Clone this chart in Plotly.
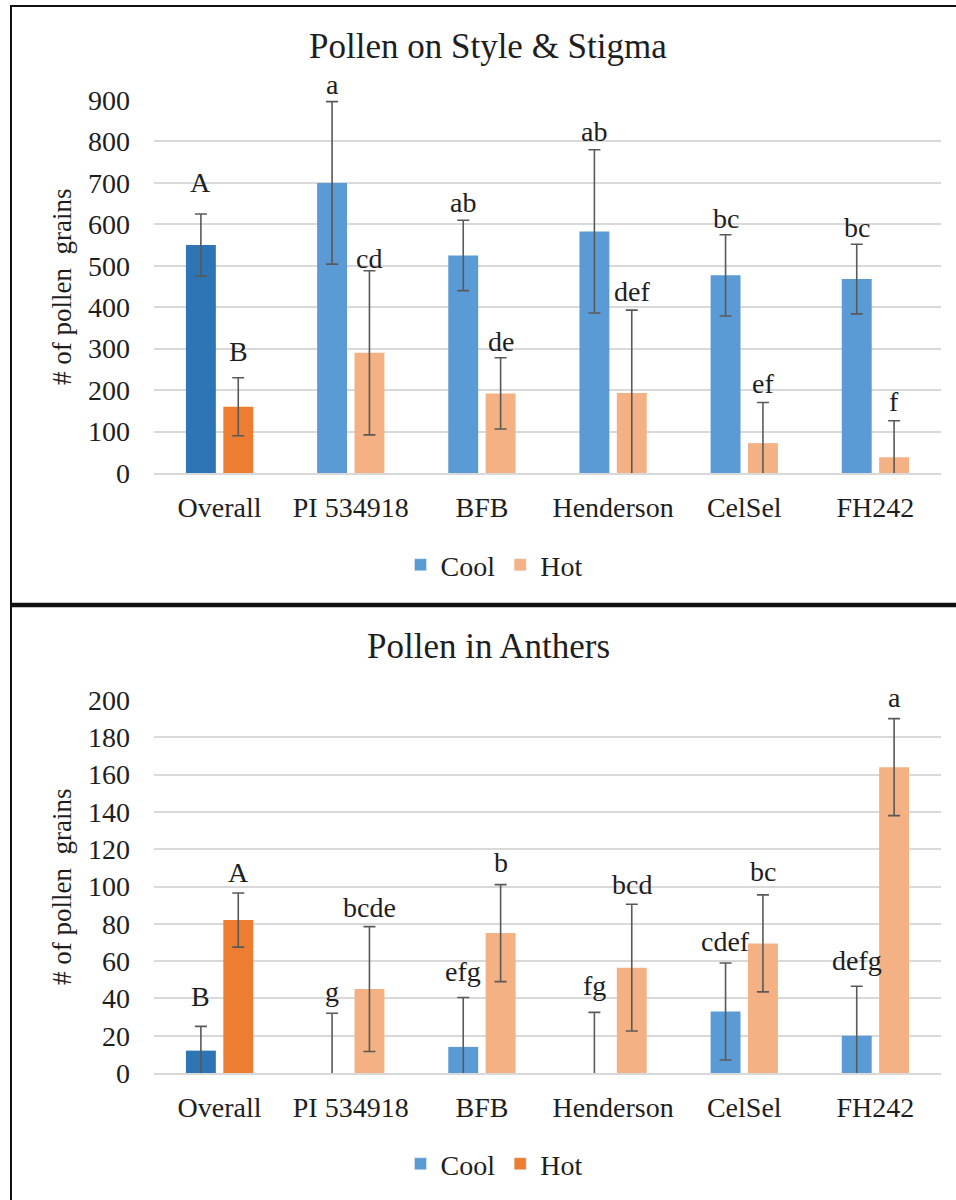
import plotly.graph_objects as go

# ---- data -------------------------------------------------------------
categories = ["Overall", "PI 534918", "BFB", "Henderson", "CelSel", "FH242"]

stigma_cool = [550, 700, 525, 583, 477, 468]
stigma_cool_err = [75, 196, 85, 197, 98, 84]
stigma_hot = [160, 290, 192, 193, 72, 38]
stigma_hot_err = [70, 198, 86, 200, 98, 88]
stigma_cool_letters = ["A", "a", "ab", "ab", "bc", "bc"]
stigma_hot_letters = ["B", "cd", "de", "def", "ef", "f"]

anther_cool = [12, 0, 14, 0, 33, 20]
anther_cool_err = [13, 32, 26.5, 32.5, 26, 26.5]
anther_hot = [82, 45, 75, 56.5, 69.5, 164]
anther_hot_err = [14.5, 33.5, 26, 34, 26, 26]
anther_cool_letters = ["B", "g", "efg", "fg", "cdef", "defg"]
anther_hot_letters = ["A", "bcde", "b", "bcd", "bc", "a"]

# ---- style ------------------------------------------------------------
W, H = 956, 1200
FONT = "Liberation Serif"
TXT = "#1e1e1e"
GRID = "#D9D9D9"
ERR = "#595959"
COOL_ALL, HOT_ALL = "#2E75B6", "#ED7D31"
COOL, HOT = "#5B9BD5", "#F4B183"
BARGAP, GROUPGAP = 0.43, 0.2
HALF = (1 - BARGAP) / 4  # centre offset of each bar within its group

# extra lift (px) of the letter labels above the error caps
stigma_cool_lift = [14, 0, 0, 1, -1, -1]
stigma_hot_lift = [9, -5, -1, 1, 2, 2]
anther_cool_lift = [12, 4, 8, 9, 4, 8]
anther_hot_lift = [3, 2, 5, 2, 6, 4]


def px_x(p):
    return p / W


def px_y(p):
    return 1 - p / H


xs = list(range(len(categories)))
fig = go.Figure()


def add_panel(xa, ya, cool, cool_err, hot, hot_err, hot_first):
    fig.add_trace(go.Bar(
        x=xs, y=cool, name="Cool", xaxis=xa, yaxis=ya, showlegend=False,
        marker=dict(color=[COOL_ALL] + [COOL] * (len(xs) - 1), line=dict(width=0)),
        error_y=dict(type="data", array=cool_err, color=ERR, thickness=1.6, width=6),
    ))
    fig.add_trace(go.Bar(
        x=xs, y=hot, name="Hot", xaxis=xa, yaxis=ya, showlegend=False,
        marker=dict(color=[hot_first] + [HOT] * (len(xs) - 1), line=dict(width=0)),
        error_y=dict(type="data", array=hot_err, color=ERR, thickness=1.6, width=6),
    ))


add_panel("x", "y", stigma_cool, stigma_cool_err, stigma_hot, stigma_hot_err, HOT_ALL)
add_panel("x2", "y2", anther_cool, anther_cool_err, anther_hot, anther_hot_err, HOT_ALL)

# legend entries (drawn on a hidden axis pair so they do not take bar slots)
for name, col, lg in [("Cool", COOL, "legend"), ("Hot", HOT, "legend"),
                      ("Cool", COOL, "legend2"), ("Hot", HOT_ALL, "legend2")]:
    fig.add_trace(go.Bar(x=[None], y=[None], name=name, marker_color=col,
                         xaxis="x3", yaxis="y3", legend=lg, showlegend=True))

annotations = []


def letters(xa, ya, vals, errs, labels, lifts, side):
    for i, (v, e, t, l) in enumerate(zip(vals, errs, labels, lifts)):
        annotations.append(dict(
            x=i + side * HALF, y=v + e, xref=xa, yref=ya, text=t,
            showarrow=False, yanchor="bottom", xanchor="center", yshift=l,
            font=dict(family=FONT, size=28, color=TXT),
        ))


letters("x", "y", stigma_cool, stigma_cool_err, stigma_cool_letters, stigma_cool_lift, -1)
letters("x", "y", stigma_hot, stigma_hot_err, stigma_hot_letters, stigma_hot_lift, 1)
letters("x2", "y2", anther_cool, anther_cool_err, anther_cool_letters, anther_cool_lift, -1)
letters("x2", "y2", anther_hot, anther_hot_err, anther_hot_letters, anther_hot_lift, 1)

# chart titles and y-axis titles
for text, yc in [("Pollen on Style &amp; Stigma", 46), ("Pollen in Anthers", 646)]:
    annotations.append(dict(x=px_x(488), y=px_y(yc), xref="paper", yref="paper",
                            text=text, showarrow=False, xanchor="center", yanchor="middle",
                            font=dict(family=FONT, size=35, color=TXT)))
for yc in [287, 887]:
    annotations.append(dict(x=px_x(62), y=px_y(yc), xref="paper", yref="paper",
                            text="# of pollen\u00a0 grains", textangle=-90, showarrow=False,
                            xanchor="center", yanchor="middle",
                            font=dict(family=FONT, size=27, color=TXT)))

xaxis_style = dict(
    range=[-0.5, len(xs) - 0.5], tickvals=xs, ticktext=categories,
    showgrid=False, zeroline=False, showline=True, linecolor=GRID, linewidth=1.5,
    ticks="", ticklabelstandoff=9, fixedrange=True,
    tickfont=dict(family=FONT, size=28, color=TXT),
)
yaxis_style = dict(
    showgrid=True, gridcolor=GRID, gridwidth=1.5, zeroline=False, showline=False,
    ticks="", ticklabelstandoff=23, fixedrange=True,
    tickfont=dict(family=FONT, size=28, color=TXT),
)

legend_style = dict(orientation="h", xanchor="center", yanchor="middle",
                    x=px_x(494), font=dict(family=FONT, size=28, color=TXT),
                    bgcolor="rgba(0,0,0,0)", itemwidth=30, traceorder="normal")

shapes = [
    dict(type="line", xref="paper", yref="paper", x0=px_x(11), x1=1.01,
         y0=px_y(6), y1=px_y(6), line=dict(color="#111", width=2)),
    dict(type="line", xref="paper", yref="paper", x0=px_x(11), x1=1.01,
         y0=px_y(605), y1=px_y(605), line=dict(color="#111", width=4.5)),
    dict(type="line", xref="paper", yref="paper", x0=px_x(11), x1=px_x(11),
         y0=-0.01, y1=px_y(5), line=dict(color="#111", width=2)),
]

fig.update_layout(
    width=W, height=H, margin=dict(l=0, r=0, t=0, b=0, autoexpand=False),
    font=dict(family=FONT, color=TXT),
    paper_bgcolor="white", plot_bgcolor="white",
    barmode="group", bargap=BARGAP, bargroupgap=GROUPGAP,
    xaxis=dict(domain=[px_x(154), px_x(941)], anchor="y", **xaxis_style),
    yaxis=dict(domain=[px_y(473), px_y(100)], anchor="x", range=[0, 900], dtick=100,
               **yaxis_style),
    xaxis2=dict(domain=[px_x(154), px_x(941)], anchor="y2", **xaxis_style),
    yaxis2=dict(domain=[px_y(1073), px_y(700)], anchor="x2", range=[0, 200], dtick=20,
                **yaxis_style),
    xaxis3=dict(domain=[0, 0.01], anchor="y3", visible=False),
    yaxis3=dict(domain=[0, 0.01], anchor="x3", visible=False),
    legend=dict(y=px_y(565), **legend_style),
    legend2=dict(y=px_y(1164), **legend_style),
    annotations=annotations,
    shapes=shapes,
    showlegend=True,
)

fig.write_html("out.html")
